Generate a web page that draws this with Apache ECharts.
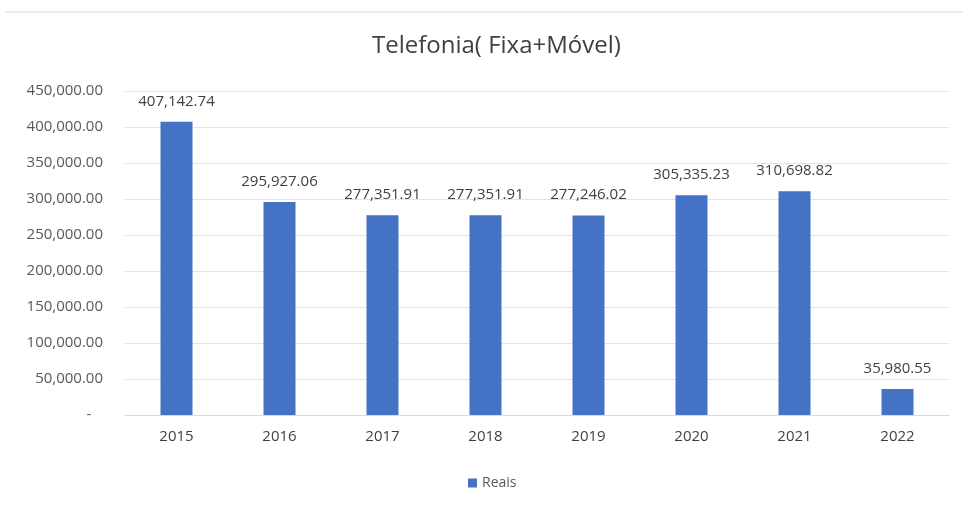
<!DOCTYPE html>
<html>
<head>
<meta charset="utf-8">
<script src="https://cdn.jsdelivr.net/npm/echarts@6/dist/echarts.min.js"></script>
<style>
  html, body { margin: 0; padding: 0; background: #fff; }
  #chart { width: 963px; height: 506px; }
</style>
</head>
<body>
<div id="chart"></div>
<script>
const years = ['2015', '2016', '2017', '2018', '2019', '2020', '2021', '2022'];
const reais = [407142.74, 295927.06, 277351.91, 277351.91, 277246.02, 305335.23, 310698.82, 35980.55];
const yMax = 450000;
const yStep = 50000;

function fmtMoney(v) {
  return v.toLocaleString('en-US', { minimumFractionDigits: 2, maximumFractionDigits: 2 });
}

const chart = echarts.init(document.getElementById('chart'), null, { renderer: 'canvas' });
const font = 'Open Sans';

chart.setOption({
  backgroundColor: '#ffffff',
  animation: false,
  title: {
    text: 'Telefonia( Fixa+Móvel)',
    left: 367,
    top: 29,
    textStyle: { fontFamily: font, fontSize: 24, fontWeight: 'normal', color: '#404040' }
  },
  legend: {
    top: 471,
    left: 463,
    itemWidth: 9,
    itemHeight: 9,
    itemGap: 6,
    icon: 'rect',
    textStyle: { fontFamily: font, fontSize: 14, color: '#595959' },
    data: ['Reais']
  },
  grid: { left: 125, right: 14, top: 91, bottom: 91, containLabel: false },
  xAxis: {
    type: 'category',
    data: years,
    axisLine: { lineStyle: { color: '#d9d9d9' } },
    axisTick: { show: false },
    axisLabel: { fontFamily: font, fontSize: 15, color: '#404040', margin: 14 }
  },
  yAxis: {
    type: 'value',
    min: 0,
    max: yMax,
    interval: yStep,
    axisLine: { show: false },
    axisTick: { show: false },
    splitLine: { lineStyle: { color: '#e3e3e3' } },
    axisLabel: {
      fontFamily: font, fontSize: 15, color: '#595959', margin: 22,
      formatter: function (v) { return v === 0 ? '-   ' : fmtMoney(v); }
    }
  },
  series: [{
    name: 'Reais',
    type: 'bar',
    data: reais,
    barWidth: 32,
    itemStyle: { color: '#4472c4' },
    label: {
      show: true,
      position: 'top',
      distance: 13,
      fontFamily: font,
      fontSize: 15,
      color: '#404040',
      formatter: function (p) { return fmtMoney(p.value); }
    }
  }],
  graphic: [{
    type: 'line',
    shape: { x1: 5, y1: 12, x2: 963, y2: 12 },
    style: { stroke: '#d6d6d6', lineWidth: 1 }
  }]
});
</script>
</body>
</html>
